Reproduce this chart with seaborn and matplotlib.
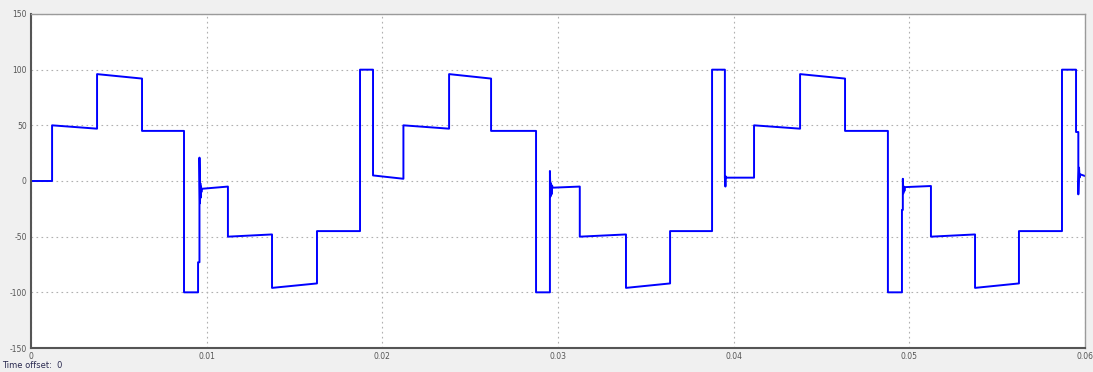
import numpy as np
import pandas as pd
import matplotlib
matplotlib.use("Agg")
import matplotlib.pyplot as plt
import seaborn as sns

# Inverter output voltage trace, one list pair per 20 ms cycle (time in s, voltage)
cycle1_t = [0.0, 0.00120, 0.00120, 0.00376, 0.00376, 0.00632, 0.00632, 0.00871, 0.00871,
            0.00951, 0.00951, 0.00959, 0.00959, 0.00962, 0.00964, 0.00966, 0.00968, 0.00970,
            0.00972, 0.01121, 0.01121, 0.01372, 0.01372, 0.01628, 0.01628, 0.01873, 0.01873,
            0.01947, 0.01947]
cycle1_v = [0, 0, 50, 47, 96, 92, 45, 45, -100,
            -100, -73, -73, 21, -20, -2, -15, -5, -10,
            -7, -5, -50, -48, -96, -92, -45, -45, 100,
            100, 5]

cycle2_t = [0.02120, 0.02120, 0.02380, 0.02380, 0.02619, 0.02619, 0.02875, 0.02875,
            0.02954, 0.02954, 0.02957, 0.02960, 0.02963, 0.02966, 0.02970, 0.03124,
            0.03124, 0.03387, 0.03387, 0.03638, 0.03638, 0.03877, 0.03877, 0.03950,
            0.03950, 0.03953, 0.03956, 0.03960]
cycle2_v = [2, 50, 47, 96, 92, 45, 45, -100,
            -100, 9, -14, -2, -12, -4, -6, -5,
            -50, -48, -96, -92, -45, -45, 100, 100,
            3, -5, 4, 3]

cycle3_t = [0.04116, 0.04116, 0.04378, 0.04378, 0.04634, 0.04634, 0.04878, 0.04878,
            0.04958, 0.04958, 0.04963, 0.04963, 0.04966, 0.04969, 0.04972, 0.04975,
            0.05123, 0.05123, 0.05374, 0.05374, 0.05624, 0.05624, 0.05869, 0.05869,
            0.05949, 0.05949, 0.05962, 0.05962, 0.05966, 0.05969, 0.05972, 0.06000]
cycle3_v = [3, 50, 47, 96, 92, 45, 45, -100,
            -100, -26, -26, 2, -11, -5, -9, -5.5,
            -4.5, -50, -48, -96, -92, -45, -45, 100,
            100, 44, 44, -12, 12, 3, 6, 4.5]

x_ticks = [0, 0.01, 0.02, 0.03, 0.04, 0.05, 0.06]
x_labels = ["0", "0.01", "0.02", "0.03", "0.04", "0.05", "0.06"]
y_ticks = [-150, -100, -50, 0, 50, 100, 150]

df = pd.DataFrame({
    "t": cycle1_t + cycle2_t + cycle3_t,
    "v": cycle1_v + cycle2_v + cycle3_v,
})

sns.set_style("white")
fig = plt.figure(figsize=(10.93, 3.72), dpi=100, facecolor="#f0f0f0")
ax = fig.add_axes([31 / 1093, 1 - 348 / 372, (1085 - 31) / 1093, (348 - 14) / 372])
ax.set_facecolor("white")

sns.lineplot(data=df, x="t", y="v", sort=False, estimator=None,
             color="#0000ff", linewidth=1.4, ax=ax)

ax.set_xlim(0, 0.06)
ax.set_ylim(-150, 150)
ax.set_xticks(x_ticks)
ax.set_xticklabels(x_labels)
ax.set_yticks(y_ticks)
ax.set_yticklabels([str(v) for v in y_ticks])
ax.set_xlabel("")
ax.set_ylabel("")

ax.grid(True, color="#b0b0b0", linestyle=(0, (1.5, 3)), linewidth=0.8)
ax.tick_params(axis="both", direction="in", length=4, width=1.2, color="#333333",
               labelsize=5.5, labelcolor="#555555", pad=3)
for side in ("left", "bottom"):
    ax.spines[side].set_color("#555555")
    ax.spines[side].set_linewidth(1.5)
for side in ("top", "right"):
    ax.spines[side].set_color("#9a9a9a")
    ax.spines[side].set_linewidth(1.0)

fig.text(2 / 1093, 1 - 366 / 372, "Time offset:  0", fontsize=6, color="#2a2a50",
         va="center", ha="left")

fig.savefig("out.png", dpi=100, facecolor=fig.get_facecolor())
